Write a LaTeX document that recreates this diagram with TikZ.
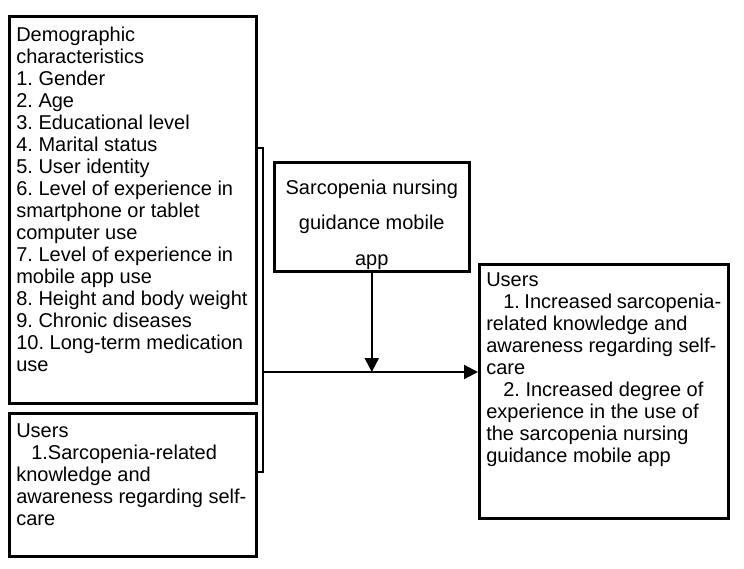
\documentclass[tikz,border=0pt]{standalone}
\usepackage{fontspec}
\setmainfont{Liberation Sans}
\usetikzlibrary{arrows.meta}

\tikzset{
  box/.style={draw, line width=2.6pt, rectangle, anchor=north west, inner sep=7pt, align=left},
  link/.style={line width=2.2pt},
  tip/.style={link, -{Triangle[length=14pt,width=14pt]}}
}

\begin{document}
\frenchspacing
\begin{tikzpicture}[x=1pt,y=-1pt]
  \useasboundingbox (0,0) rectangle (744,569);

  \node[box, inner ysep=10pt] (D) at (8,15) {\parbox[t][367pt][t]{233pt}{\fontsize{20}{22}\selectfont\strut Demographic\\
    characteristics\\
    1. Gender\\
    2. Age\\
    3. Educational level\\
    4. Marital status\\
    5. User identity\\
    6. Level of experience in\\
    smartphone or tablet\\
    computer use\\
    7. Level of experience in\\
    mobile app use\\
    8. Height and body weight\\
    9. Chronic diseases\\
    10. Long-term medication\\
    use}};
  \node[box, inner ysep=9pt] (U) at (8,412) {\parbox[t][125pt][t]{233pt}{\fontsize{20}{22}\selectfont\strut Users\\
    \hspace*{15pt}1.Sarcopenia-related\\
    knowledge and\\
    awareness regarding self-\\
    care}};
  \node[box] (M) at (273,161) {\parbox[t][95pt][t]{181pt}{\centering\fontsize{20}{35.5}\selectfont\strut Sarcopenia nursing\\
    guidance mobile\\
    app}};
  \node[box] (R) at (478,263) {\parbox[t][240pt][t]{235pt}{\fontsize{20}{22}\selectfont\strut Users\\
    \hspace*{17pt}1. Increased sarcopenia-\\
    related knowledge and\\
    awareness regarding self-\\
    care\\
    \hspace*{17pt}2. Increased degree of\\
    experience in the use of\\
    the sarcopenia nursing\\
    guidance mobile app}};

  \coordinate (T) at (263,148);
  \coordinate (B) at (263,472);
  \coordinate (J) at (263,372);

  % bracket joining the two left boxes
  \draw[link] (D.east |- T) -- (T) -- (B) -- (U.east |- B);
  % arrows
  \draw[tip] (J) -- (R.west |- J);
  \draw[tip] (M.south) -- (M.south |- J);
\end{tikzpicture}
\end{document}
